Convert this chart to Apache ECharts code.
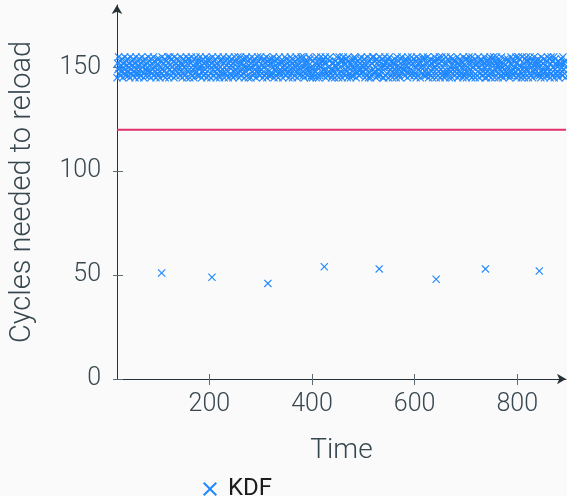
<!DOCTYPE html>
<html>
<head>
<meta charset="utf-8">
<script src="https://cdn.jsdelivr.net/npm/echarts@6/dist/echarts.min.js"></script>
<style>
html,body{margin:0;padding:0;background:#fafafa;}
#c{width:567px;height:496px;}
</style>
</head>
<body>
<div id="c"></div>
<script>
// ---- data ----
const seriesName = 'KDF';
const startTime = 20;               // time of first regular sample
const regularCycles = [
145,152,149,155,147,150,153,146,151,148,154,145,150,152,147,155,149,146,153,151,
148,154,146,150,152,145,155,149,147,153,151,146,154,148,150,145,152,155,147,149,
153,147,151,145,154,149,146,152,155,148,150,153,145,147,151,154,146,149,152,148,
150,155,146,153,148,151,145,154,147,152,149,155,146,150,153,148,145,151,154,147,
146,151,154,148,145,153,150,147,155,149,152,146,148,154,145,151,153,147,150,155,
152,145,149,155,151,146,154,148,150,147,153,145,155,149,152,146,150,154,148,151,
147,153,150,146,155,148,152,145,151,154,147,150,146,153,149,155,145,152,148,154,
154,149,145,152,147,155,146,153,149,151,145,154,150,147,155,148,152,146,153,150,
149,146,155,150,153,145,151,148,154,146,152,149,147,155,151,145,154,150,146,153,
151,154,147,145,150,152,155,149,146,153,148,151,154,145,147,152,149,155,151,146,
145,150,153,148,154,147,149,155,152,145,150,147,153,151,146,154,148,145,155,150,
153,147,151,154,146,150,145,152,148,155,146,153,149,147,152,150,155,147,145,152,
148,155,146,149,152,154,147,151,145,150,154,148,155,146,150,153,145,151,149,154,
150,145,152,155,148,146,153,147,154,149,151,145,152,148,155,147,153,150,146,148,
155,149,147,151,145,153,150,154,146,152,147,155,145,153,149,151,146,154,152,147,
146,152,154,147,150,155,145,149,153,148,151,146,154,150,145,152,155,148,147,153,
152,148,150,145,153,147,151,155,149,146,154,150,147,152,148,145,151,153,155,149,
147,154,145,152,149,151,146,153,150,155,148,145,151,154,147,150,146,152,149,155,
154,150,148,146,155,145,152,147,151,149,153,152,146,149,155,148,154,145,150,146,
149,145,153,150,147,154,148,152,145,155,150,147,153,145,151,146,150,155,153,148,
151,153,146,154,149,148,155,145,152,147,146,154,150,148,153,155,147,149,145,152,
146,149,152,148,145,151,153,150,155,146,149,152,145,155,147,150,148,153,154,145,
153,155,147,151,152,146,149,154,148,145,155,150,153,147,152,145,151,146,150,154,
148,146,150,155,154,152,145,148,147,153,151,149,146,152,154,149,155,147,148,151,
150,152,154,145,147,149,151,146,155,150,145,153,148,151,145,154,146,152,155,149,
155,147,148,153,150,145,154,152,146,149,153,147,155,146,150,152,148,154,145,150,
145,151,155,146,152,153,147,150,154,145,148,155,151,149,146,153,150,145,152,147,
152,154,149,147,145,150,155,148,151,153,146,150,145,154,148,155,147,151,149,153,
149,146,151,154,153,148,145,155,147,150,152,146,149,153,155,147,152,148,154,146,
147,150,153,145,155,151,146,152,149,154,148,145,152,150,147,151,154,155,146,150,
154,148,146,152,147,155,150,145,153,147,151,154,146,148,152,145,149,153,150,155,
150,153,145,149,151,146,154,148,155,152,145,149,153,155,146,150,148,147,152,145,
146,155,152,147,148,154,149,153,145,150,155,148,151,145,154,149,153,146,151,148,
153,149,147,155,145,152,151,146,154,148,147,153,150,152,145,155,146,150,147,154,
148,145,154,150,153,147,155,151,146,149,153,145,155,148,150,146,152,154,145,151,
151,152,146,148,155,150,145,147,153,154,149,151,146,153,148,152,155,145,150,147,
145,148,153,152,146,154,150,155,147,145,152,148,154,147,155,151,145,149,153,152,
155,151,147,145,150,149,153,146,152,155,146,150,145,152,149,147,154,151,146,148,
147,154,150,153,148,145,146,152,155,151,148,154,149,146,153,150,148,155,152,145,
152,146,155,149,154,151,148,150,145,147,155,146,152,150,145,154,147,149,155,153,
149,153,145,151,147,155,152,146,150,153,145,151,148,155,147,149,153,152,146,150,
154,147,152,146,150,153,145,155,148,149,152,147,154,145,151,148,146,153,150,155,
146,150,148,154,145,152,155,147,153,146,150,155,145,149,154,152,147,151,148,146,
153,145,151,149,152,147,154,150,146,155,149,152,147,153,145,150,155,146,154,149,
150,152,146,154,148,153
];
const reloadTimes  = [107, 205, 314, 424, 531, 642, 738, 843];
const reloadCycles = [51, 49, 46, 54, 53, 48, 53, 52];
const thresholdCycles = 120;
const xTicks = [200, 400, 600, 800];
const yTicks = [0, 50, 100, 150];
const xMin = 20, xMax = 895, yMin = 0, yMax = 180;

// ---- build ----
const kdfData = regularCycles.map((v, i) => [startTime + i, v])
  .concat(reloadTimes.map((t, i) => [t, reloadCycles[i]]));

const crossPath = 'path://M0,1L1,0L5,4L9,0L10,1L6,5L10,9L9,10L5,6L1,10L0,9L4,5Z';
const FONT = 'Roboto';
const FW = 300;
const TXT = '#37474f';
const AX = '#263238';
const TICK = '#5f6b70';
const BLUE = '#1f88ff';

const chart = echarts.init(document.getElementById('c'), null, {renderer: 'canvas'});
chart.setOption({
  backgroundColor: '#fafafa',
  animation: false,
  grid: {left: 117, right: 1, top: 5, bottom: 117, containLabel: false},
  legend: {
    data: [seriesName],
    left: 198, top: 472,
    icon: crossPath,
    itemWidth: 14, itemHeight: 14,
    textStyle: {fontFamily: FONT, fontWeight: 'normal', fontSize: 24, color: '#1c1c1c', padding: [0, 0, 0, 6]}
  },
  xAxis: [{
    type: 'value', min: xMin, max: xMax,
    name: 'Time', nameLocation: 'middle', nameGap: 58,
    nameTextStyle: {fontFamily: FONT, fontWeight: FW, fontSize: 28, color: TXT},
    axisLine: {show: true, onZero: false, lineStyle: {color: AX, width: 1},
      symbol: ['none', 'arrow'], symbolSize: [8, 9]},
    axisTick: {show: true, length: 6, customValues: xTicks, lineStyle: {color: TICK}},
    axisLabel: {customValues: xTicks, margin: 13, fontFamily: FONT, fontWeight: FW, fontSize: 25, color: TXT},
    splitLine: {show: false}
  }, {
    type: 'value', min: xMin, max: xMax, position: 'bottom',
    axisLine: {show: false},
    axisTick: {show: true, inside: true, length: 5, customValues: xTicks, lineStyle: {color: TICK}},
    axisLabel: {show: false}, splitLine: {show: false}
  }],
  yAxis: [{
    type: 'value', min: yMin, max: yMax,
    name: 'Cycles needed to reload', nameLocation: 'middle', nameGap: 80,
    nameTextStyle: {fontFamily: FONT, fontWeight: FW, fontSize: 29, color: TXT},
    axisLine: {show: true, onZero: false, lineStyle: {color: AX, width: 1},
      symbol: ['none', 'arrow'], symbolSize: [8, 9]},
    axisTick: {show: true, length: 4, customValues: yTicks, lineStyle: {color: TICK}},
    axisLabel: {customValues: yTicks, margin: 16, fontFamily: FONT, fontWeight: FW, fontSize: 25, color: TXT},
    splitLine: {show: false}
  }, {
    type: 'value', min: yMin, max: yMax, position: 'left',
    axisLine: {show: false},
    axisTick: {show: true, inside: true, length: 6, customValues: yTicks, lineStyle: {color: TICK}},
    axisLabel: {show: false}, splitLine: {show: false}
  }],
  series: [{
    name: 'threshold', type: 'line',
    data: [[xMin, thresholdCycles], [xMax, thresholdCycles]],
    symbol: 'none', silent: true,
    lineStyle: {color: '#e3306c', width: 2}, z: 1
  }, {
    name: seriesName, type: 'scatter',
    data: kdfData,
    symbol: crossPath, symbolSize: 8,
    itemStyle: {color: BLUE, opacity: 1},
    large: false, z: 2
  }]
});
</script>
</body>
</html>
